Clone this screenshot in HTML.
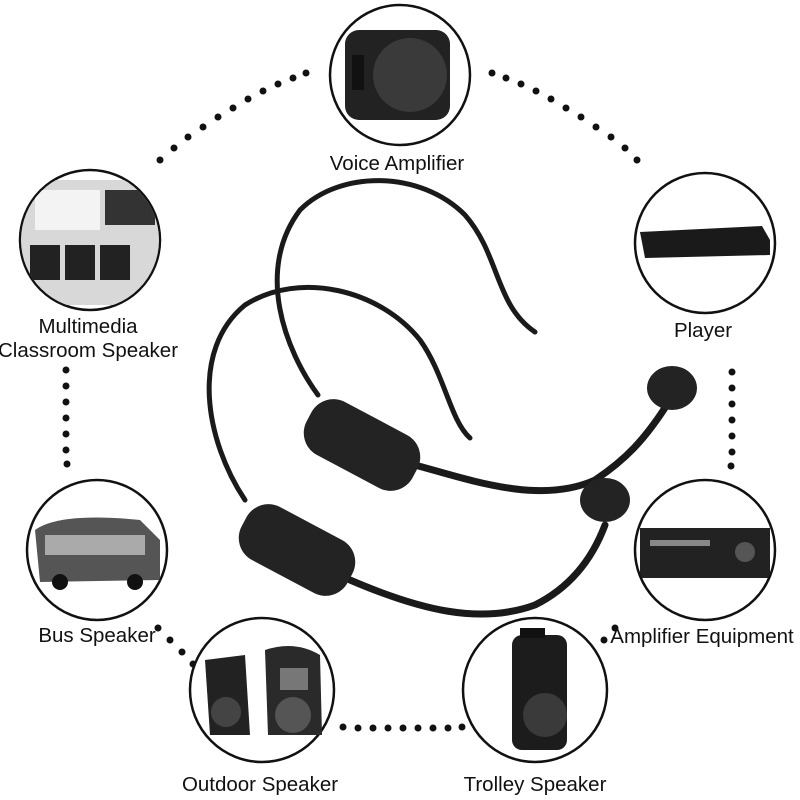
<!DOCTYPE html>
<html><head><style>
html,body{margin:0;padding:0;background:#fff;}
svg{display:block;}
text{font-family:"Liberation Sans",sans-serif;font-size:20.5px;fill:#111;}
</style></head><body>
<svg width="800" height="800" viewBox="0 0 800 800" xmlns="http://www.w3.org/2000/svg">
<defs>
<clipPath id="c1"><circle cx="90" cy="240" r="69"/></clipPath>
<clipPath id="c2"><circle cx="705" cy="243" r="69"/></clipPath>
<clipPath id="c3"><circle cx="97" cy="550" r="69"/></clipPath>
<clipPath id="c4"><circle cx="705" cy="550" r="69"/></clipPath>
</defs>
<g fill="#111">
<circle cx="160" cy="160" r="3.5"/><circle cx="174" cy="148" r="3.5"/><circle cx="188" cy="137" r="3.5"/><circle cx="203" cy="127" r="3.5"/><circle cx="218" cy="117" r="3.5"/><circle cx="233" cy="108" r="3.5"/><circle cx="248" cy="99" r="3.5"/><circle cx="263" cy="91" r="3.5"/><circle cx="278" cy="84" r="3.5"/><circle cx="293" cy="78" r="3.5"/><circle cx="306" cy="73" r="3.5"/>
<circle cx="492" cy="73" r="3.5"/><circle cx="506" cy="78" r="3.5"/><circle cx="521" cy="84" r="3.5"/><circle cx="536" cy="91" r="3.5"/><circle cx="551" cy="99" r="3.5"/><circle cx="566" cy="108" r="3.5"/><circle cx="581" cy="117" r="3.5"/><circle cx="596" cy="127" r="3.5"/><circle cx="611" cy="137" r="3.5"/><circle cx="625" cy="148" r="3.5"/><circle cx="637" cy="160" r="3.5"/>
<circle cx="66" cy="370" r="3.5"/><circle cx="66" cy="386" r="3.5"/><circle cx="66" cy="402" r="3.5"/><circle cx="66" cy="418" r="3.5"/><circle cx="66" cy="434" r="3.5"/><circle cx="66" cy="450" r="3.5"/><circle cx="67" cy="464" r="3.5"/>
<circle cx="732" cy="372" r="3.5"/><circle cx="732" cy="388" r="3.5"/><circle cx="732" cy="404" r="3.5"/><circle cx="732" cy="420" r="3.5"/><circle cx="732" cy="436" r="3.5"/><circle cx="732" cy="452" r="3.5"/><circle cx="731" cy="466" r="3.5"/>
<circle cx="158" cy="628" r="3.5"/><circle cx="170" cy="640" r="3.5"/><circle cx="182" cy="652" r="3.5"/><circle cx="193" cy="664" r="3.5"/>
<circle cx="343" cy="727" r="3.5"/><circle cx="358" cy="728" r="3.5"/><circle cx="373" cy="728" r="3.5"/><circle cx="388" cy="728" r="3.5"/><circle cx="403" cy="728" r="3.5"/><circle cx="418" cy="728" r="3.5"/><circle cx="433" cy="728" r="3.5"/><circle cx="448" cy="728" r="3.5"/><circle cx="462" cy="727" r="3.5"/>
<circle cx="604" cy="640" r="3.5"/><circle cx="615" cy="628" r="3.5"/>
</g>
<g fill="#fff" stroke="#111" stroke-width="2.5">
<circle cx="400" cy="75" r="70"/>
<circle cx="90" cy="240" r="70"/>
<circle cx="705" cy="243" r="70"/>
<circle cx="97" cy="550" r="70"/>
<circle cx="705" cy="550" r="70"/>
<circle cx="262" cy="690" r="72"/>
<circle cx="535" cy="690" r="72"/>
</g>
<rect x="345" y="30" width="105" height="90" rx="14" fill="#222"/>
<circle cx="410" cy="75" r="37" fill="#3a3a3a"/>
<rect x="352" y="55" width="12" height="35" fill="#111"/>
<g clip-path="url(#c1)">
<rect x="20" y="180" width="140" height="125" fill="#d8d8d8"/>
<rect x="35" y="190" width="65" height="40" fill="#f3f3f3"/>
<rect x="105" y="190" width="50" height="35" fill="#333"/>
<g fill="#222"><rect x="30" y="245" width="30" height="35"/><rect x="65" y="245" width="30" height="35"/><rect x="100" y="245" width="30" height="35"/></g>
</g>
<path d="M640 232 L762 226 L770 240 L770 255 L645 258 Z" fill="#1a1a1a" clip-path="url(#c2)"/>
<g clip-path="url(#c3)">
<path d="M35 530 Q60 512 140 520 L160 540 L160 580 L40 582 Z" fill="#555"/>
<rect x="45" y="535" width="100" height="20" fill="#aaa"/>
<circle cx="60" cy="582" r="8" fill="#111"/><circle cx="135" cy="582" r="8" fill="#111"/>
</g>
<g clip-path="url(#c4)">
<rect x="640" y="528" width="130" height="50" fill="#222"/>
<rect x="650" y="540" width="60" height="6" fill="#888"/>
<circle cx="745" cy="552" r="10" fill="#555"/>
</g>
<path d="M205 660 L245 655 L250 735 L210 735 Z" fill="#222"/>
<circle cx="226" cy="712" r="15" fill="#444"/>
<path d="M265 650 Q295 640 320 655 L322 735 L268 735 Z" fill="#2a2a2a"/>
<circle cx="293" cy="715" r="18" fill="#555"/>
<rect x="280" y="668" width="28" height="22" fill="#777"/>
<rect x="512" y="635" width="55" height="115" rx="10" fill="#1c1c1c"/>
<circle cx="545" cy="715" r="22" fill="#3a3a3a"/>
<rect x="520" y="628" width="25" height="10" fill="#111"/>
<g text-anchor="middle">
<text x="397" y="170">Voice Amplifier</text>
<text x="88" y="333">Multimedia</text>
<text x="88" y="357">Classroom Speaker</text>
<text x="703" y="337">Player</text>
<text x="97" y="642">Bus Speaker</text>
<text x="702" y="643">Amplifier Equipment</text>
<text x="260" y="791">Outdoor Speaker</text>
<text x="535" y="791">Trolley Speaker</text>
</g>
<g fill="none" stroke="#1a1a1a" stroke-linecap="round">
<path d="M318 395 C285 350 255 270 300 210 C340 170 420 170 465 215 C500 255 495 305 535 332" stroke-width="5"/>
<path d="M245 500 C205 440 190 350 245 305 C300 270 380 290 420 340 C445 375 450 420 470 438" stroke-width="5"/>
<path d="M415 465 C470 480 540 505 595 480 C625 460 645 440 670 400" stroke-width="7"/>
<path d="M350 580 C420 610 480 625 535 605 C565 590 590 565 605 525" stroke-width="7"/>
</g>
<g fill="#232323">
<rect x="302" y="415" width="120" height="60" rx="25" transform="rotate(28 362 445)"/>
<rect x="237" y="520" width="120" height="60" rx="25" transform="rotate(28 297 550)"/>
<ellipse cx="672" cy="388" rx="25" ry="22"/>
<ellipse cx="605" cy="500" rx="25" ry="22"/>
</g>
</svg>
</body></html>
